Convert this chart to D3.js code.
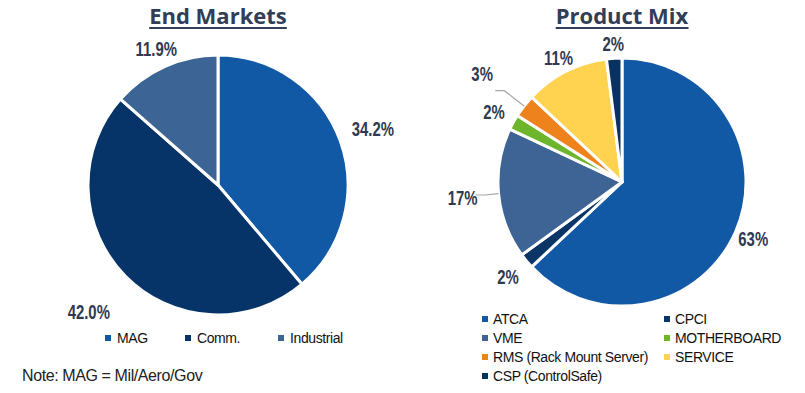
<!DOCTYPE html>
<html>
<head>
<meta charset="utf-8">
<title>End Markets / Product Mix</title>
<script src="https://cdnjs.cloudflare.com/ajax/libs/d3/7.8.5/d3.min.js"></script>
<style>
  body { margin: 0; background: #fff; }
  svg text { font-family: "Liberation Sans", Arial, sans-serif; }
  .title { font-family: "Open Sans", sans-serif !important; font-weight: 700; font-size: 22px; fill: #323d56; }
  .pct { font-weight: 700; font-size: 21px; fill: #2f3a50; }
  .leg { font-size: 14px; fill: #111; letter-spacing: -0.4px; }
</style>
</head>
<body>
<div id="chart"></div>
<script>
// End Markets
var marketNames = ["MAG", "Comm.", "Industrial"];
var marketValues = [34.2, 42.0, 11.9];
var marketLabels = ["34.2%", "42.0%", "11.9%"];
var marketColors = ["#1158a5", "#073468", "#3c6595"];

// Product Mix
var productNames = ["ATCA", "CPCI", "VME", "MOTHERBOARD", "RMS (Rack Mount Server)", "SERVICE", "CSP (ControlSafe)"];
var productValues = [63, 2, 17, 2, 3, 11, 2];
var productLabels = ["63%", "2%", "17%", "2%", "3%", "11%", "2%"];
var productColors = ["#1158a5", "#0b3566", "#3d6494", "#6db52b", "#ee831d", "#ffd24f", "#0a3260"];

var width = 805, height = 393;

var svg = d3.select("#chart").append("svg")
    .attr("width", width)
    .attr("height", height);

// draws one pie with its title and outside labels
function drawPie(cx, cy, r, names, values, labels, colors, title, labelDist, leaders) {
    var pie = d3.pie().sort(null).value(function(d) { return d; })(values);
    var arc = d3.arc().innerRadius(0).outerRadius(r);
    var g = svg.append("g").attr("transform", "translate(" + cx + "," + cy + ")");

    g.selectAll("path").data(pie).enter().append("path")
        .attr("d", arc)
        .attr("fill", function(d, i) { return colors[i]; })
        .attr("stroke", "#fff")
        .attr("stroke-width", 3)
        .attr("stroke-linejoin", "round");

    // leader lines for a few labels
    pie.forEach(function(d, i) {
        if (!leaders[i]) return;
        var a = (d.startAngle + d.endAngle) / 2;
        var p0 = [Math.sin(a) * r, -Math.cos(a) * r];
        var lr = labelDist[i] - leaders[i];
        var p1 = [Math.sin(a) * lr, -Math.cos(a) * lr];
        var p2 = [p1[0] - 9, p1[1]];
        g.append("polyline")
            .attr("points", [p0, p1, p2].map(function(p) { return p.join(","); }).join(" "))
            .attr("fill", "none")
            .attr("stroke", "#a6a6a6")
            .attr("stroke-width", 1.2);
    });

    // percent labels, squeezed to look like a narrow face
    g.selectAll("text.pct").data(pie).enter().append("text")
        .attr("class", "pct")
        .attr("transform", function(d, i) {
            var a = (d.startAngle + d.endAngle) / 2;
            return "translate(" + Math.sin(a) * labelDist[i] + "," + (-Math.cos(a) * labelDist[i]) + ") scale(0.71,1)";
        })
        .attr("dy", "0.36em")
        .attr("text-anchor", "middle")
        .text(function(d, i) { return labels[i]; });

    var t = svg.append("text")
        .attr("class", "title")
        .attr("x", cx)
        .attr("y", 24)
        .attr("text-anchor", "middle")
        .text(title);
    var bb = t.node().getBBox();
    svg.append("line")
        .attr("x1", bb.x).attr("x2", bb.x + bb.width)
        .attr("y1", 28).attr("y2", 28)
        .attr("stroke", "#323d56")
        .attr("stroke-width", 2);
}

drawPie(218, 185, 130, marketNames, marketValues, marketLabels, marketColors,
    "End Markets", [165, 181, 150], []);
drawPie(622, 182, 124, productNames, productValues, productLabels, productColors,
    "Product Mix", [143, 148, 160, 146, 177, 140, 139], [0, 0, 22, 0, 28, 0, 0]);

// left legend, one row
var legX = [108, 188, 281];
marketNames.forEach(function(n, i) {
    svg.append("rect").attr("x", legX[i] - 3).attr("y", 335).attr("width", 6).attr("height", 6)
        .attr("fill", marketColors[i]);
    svg.append("text").attr("class", "leg").attr("x", legX[i] + 9).attr("y", 343).text(n);
});

// right legend, two columns
var colX = [485, 667];
var rowY = [319, 338, 357, 376];
productNames.forEach(function(n, i) {
    var x = colX[i % 2], y = rowY[Math.floor(i / 2)];
    svg.append("rect").attr("x", x - 3).attr("y", y - 3).attr("width", 6).attr("height", 6)
        .attr("fill", productColors[i]);
    svg.append("text").attr("class", "leg").attr("x", x + 8).attr("y", y + 5).text(n);
});

svg.append("text").attr("class", "leg")
    .attr("x", 22).attr("y", 381)
    .style("font-size", "16px")
    .style("fill", "#222")
    .text("Note: MAG = Mil/Aero/Gov");
</script>
</body>
</html>
